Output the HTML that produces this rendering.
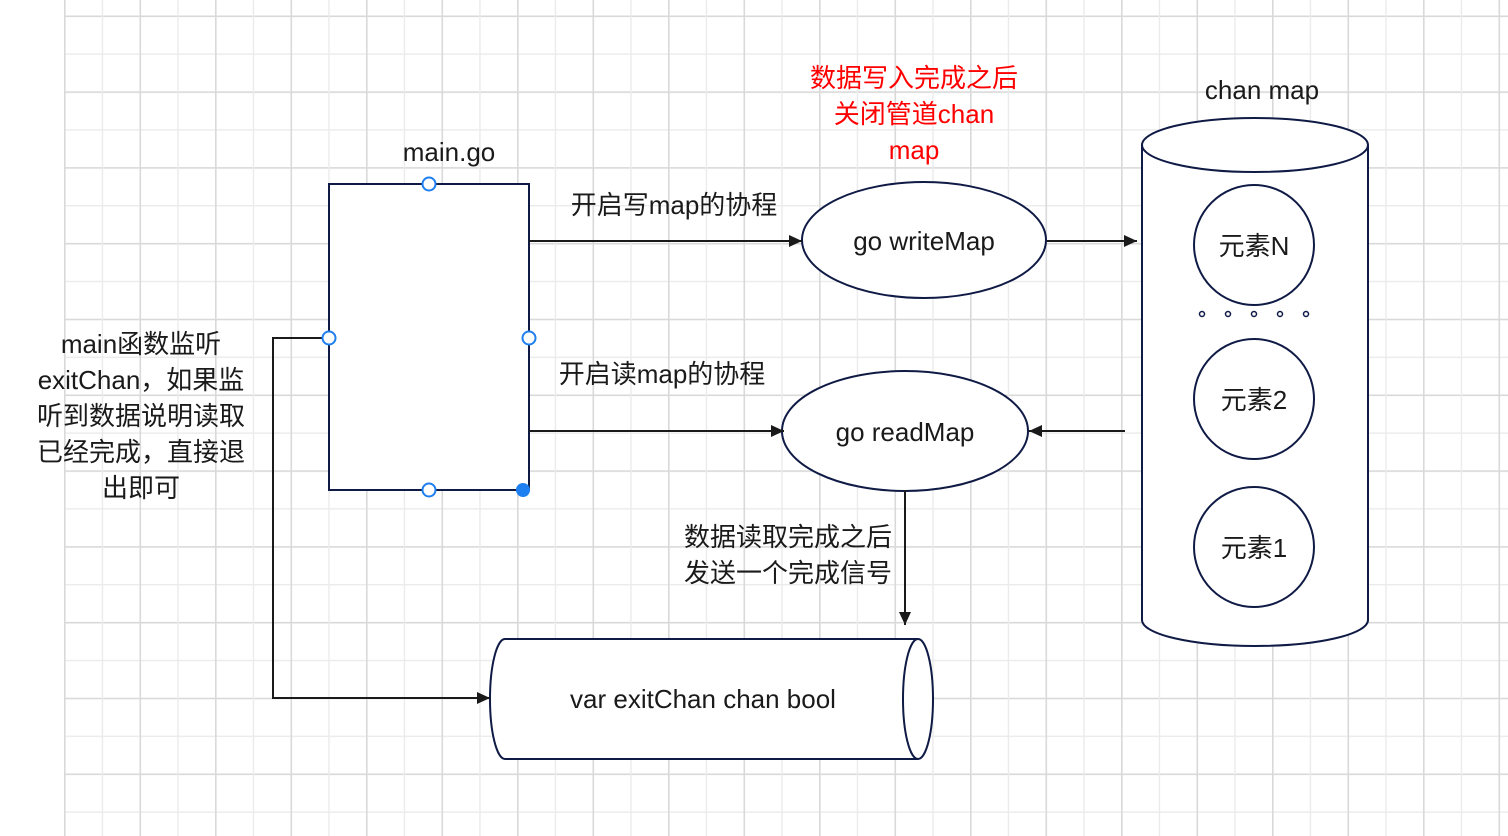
<!DOCTYPE html>
<html><head><meta charset="utf-8"><style>
html,body{margin:0;padding:0;background:#fff}
svg{display:block}
text{font-family:"Liberation Sans","Noto Sans CJK SC",sans-serif;fill:#1a1a1a}
</style></head><body>
<svg width="1508" height="836" viewBox="0 0 1508 836" xmlns="http://www.w3.org/2000/svg">
<defs>
<pattern id="gv" x="64" y="0" width="75.5" height="836" patternUnits="userSpaceOnUse">
<rect x="0" y="0" width="1.6" height="836" fill="#d9d9d9"/>
<rect x="37.75" y="0" width="1.4" height="836" fill="#ebebeb"/>
</pattern>
<pattern id="gh" x="0" y="15.5" width="1508" height="75.8" patternUnits="userSpaceOnUse">
<rect x="0" y="0" width="1508" height="1.6" fill="#d9d9d9"/>
<rect x="0" y="37.9" width="1508" height="1.4" fill="#ebebeb"/>
</pattern>
<marker id="ar" markerWidth="14" markerHeight="14" refX="13" refY="7" orient="auto" markerUnits="userSpaceOnUse">
<path d="M0,1 L13,7 L0,13 z" fill="#1a1a1a"/>
</marker>
</defs>
<rect x="64" y="0" width="1444" height="836" fill="url(#gh)"/>
<rect x="64" y="0" width="1444" height="836" fill="url(#gv)"/>

<g stroke="#0f1a45" stroke-width="2" fill="#fff">
<rect x="329" y="184" width="200" height="306"/>
<ellipse cx="924" cy="240" rx="122" ry="58"/>
<ellipse cx="905" cy="431" rx="123" ry="60"/>
<path d="M1142,145 L1142,620 A113,26 0 0 0 1368,620 L1368,145"/>
<ellipse cx="1255" cy="145" rx="113" ry="27"/>
<circle cx="1254" cy="245" r="60"/>
<circle cx="1254" cy="399" r="60"/>
<circle cx="1254" cy="547" r="60"/>
<path d="M918,639 L505,639 A15,60 0 0 0 505,759 L918,759"/>
<ellipse cx="918" cy="699" rx="15" ry="60"/>
</g>
<g fill="#fff" stroke="#0f1a45" stroke-width="1.5">
<circle cx="1202" cy="314" r="2.5"/><circle cx="1228" cy="314" r="2.5"/><circle cx="1254" cy="314" r="2.5"/><circle cx="1280" cy="314" r="2.5"/><circle cx="1306" cy="314" r="2.5"/>
</g>

<g stroke="#1a1a1a" stroke-width="2" fill="none" marker-end="url(#ar)">
<path d="M529,241 L802,241"/>
<path d="M1047,241 L1137,241"/>
<path d="M1125,431 L1029,431"/>
<path d="M529,431 L784,431"/>
<path d="M905,490 L905,625"/>
<path d="M329,338 L273,338 L273,698 L490,698"/>
</g>

<g fill="#fff" stroke="#1e7ff0" stroke-width="2">
<circle cx="429" cy="184" r="6.5"/>
<circle cx="329" cy="338" r="6.5"/>
<circle cx="529" cy="338" r="6.5"/>
<circle cx="429" cy="490" r="6.5"/>
</g>
<circle cx="523" cy="490" r="7" fill="#1e7ff0"/>

<g font-size="26" text-anchor="middle">
<text x="449" y="161">main.go</text>
<text x="1262" y="99">chan map</text>
<text x="924" y="250">go writeMap</text>
<text x="905" y="441">go readMap</text>
<text x="703" y="708">var exitChan chan bool</text>
<text x="1254" y="255">元素N</text>
<text x="1254" y="409">元素2</text>
<text x="1254" y="557">元素1</text>
<text x="674" y="214">开启写map的协程</text>
<text x="662" y="383">开启读map的协程</text>
<text x="788" y="546">数据读取完成之后</text>
<text x="788" y="582">发送一个完成信号</text>
<text x="141" y="353">main函数监听</text>
<text x="141" y="389">exitChan，如果监</text>
<text x="141" y="425">听到数据说明读取</text>
<text x="141" y="461">已经完成，直接退</text>
<text x="141" y="497">出即可</text>
<text x="914" y="87" style="fill:#ff0000">数据写入完成之后</text>
<text x="914" y="123" style="fill:#ff0000">关闭管道chan</text>
<text x="914" y="159" style="fill:#ff0000">map</text>
</g>
</svg>
</body></html>
